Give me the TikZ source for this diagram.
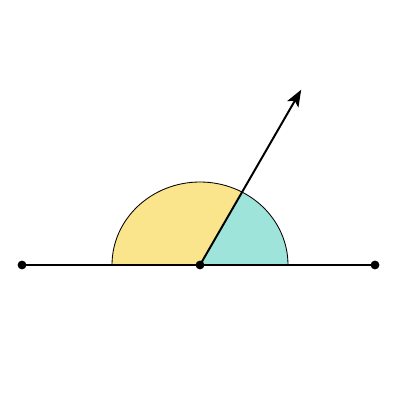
\documentclass[tikz,border=0pt]{standalone}
\usepackage{xcolor}
\usepackage{tikz}
\usetikzlibrary{arrows.meta}
\definecolor{sunyellow}{RGB}{250,228,140}
\definecolor{seacyan}{RGB}{158,228,218}

\begin{document}
\begin{tikzpicture}[line cap=round,line join=round,>={Stealth[length=0.42cm,width=0.32cm,inset=0.1cm]},x=1.0cm,y=1.0cm,
		dot/.style={circle,fill=black,inner sep=0pt,minimum size=0.22cm},
		ray/.style={line width=1.4pt}]
		\useasboundingbox (-5,-3.375) rectangle (5,6.625);
		\coordinate (O) at (0,0);
		\coordinate (A) at (-4.45,0);
		\coordinate (B) at (4.375,0);
		\coordinate (P) at (60:5.06);
		\fill [sunyellow] (O) -- (-2.2,0) arc[start angle=180,end angle=61.4,x radius=2.2cm,y radius=2.075cm] -- cycle;
		\fill [seacyan] (O) -- (2.2,0) arc[start angle=0,end angle=61.4,x radius=2.2cm,y radius=2.075cm] -- cycle;
		\draw [line width=0.6pt] (-2.2,0) arc[start angle=180,end angle=0,x radius=2.2cm,y radius=2.075cm];
		\draw [ray] (A) -- (B);
		\draw [ray,->] (O) -- (P);
		\node [dot] (a) at (A) {};
		\node [dot] (b) at (B) {};
		\node [dot] (o) at (O) {};
	\end{tikzpicture}
\end{document}
